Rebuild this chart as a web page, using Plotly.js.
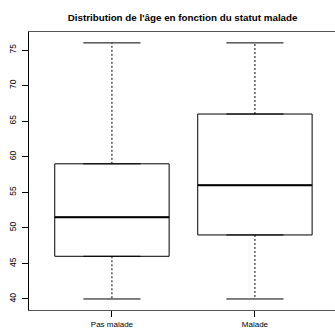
<!DOCTYPE html>
<html><head><meta charset="utf-8">
<script src="https://cdn.plot.ly/plotly-3.0.1.min.js"></script>
<style>html,body{margin:0;padding:0;background:#fff}#c{width:335px;height:329px}</style>
</head><body><div id="c"></div>
<script>
const categories = ["Pas malade", "Malade"];
const positions = [1, 2];
const lowerWhisker = [40, 40];
const q1 = [46, 49];
const median = [51.5, 56];
const q3 = [59, 66];
const upperWhisker = [76, 76];
const yTicks = [40, 45, 50, 55, 60, 65, 70, 75];

const traces = [];
const boxHalf = 0.4, capHalf = 0.2;
positions.forEach((p, i) => {
  traces.push({
    type: 'box', x: [p], q1: [q1[i]], median: [median[i]], q3: [q3[i]],
    lowerfence: [q1[i]], upperfence: [q3[i]], width: 0.8,
    fillcolor: 'rgba(255,255,255,0)', line: {color: '#000', width: 1},
    boxpoints: false, hoverinfo: 'skip', showlegend: false
  });
  traces.push({type: 'scatter', mode: 'lines', x: [p - boxHalf, p + boxHalf], y: [median[i], median[i]],
    line: {color: '#000', width: 2}, showlegend: false, hoverinfo: 'skip'});
  traces.push({type: 'scatter', mode: 'lines', x: [p, p, null, p, p], y: [q3[i], upperWhisker[i], null, q1[i], lowerWhisker[i]],
    line: {color: '#000', width: 1, dash: '2px,2px'}, showlegend: false, hoverinfo: 'skip'});
  traces.push({type: 'scatter', mode: 'lines', x: [p - capHalf, p + capHalf, null, p - capHalf, p + capHalf],
    y: [upperWhisker[i], upperWhisker[i], null, lowerWhisker[i], lowerWhisker[i]],
    line: {color: '#000', width: 1}, showlegend: false, hoverinfo: 'skip'});
});

const layout = {
  width: 335, height: 329,
  margin: {l: 29, r: 0, t: 32, b: 19},
  paper_bgcolor: '#fff', plot_bgcolor: '#fff',
  font: {family: 'Liberation Sans, Arial, sans-serif', color: '#000', size: 8},
  title: {text: "<b>Distribution de l'âge en fonction du statut malade</b>", x: 0.545, xanchor: 'center', y: 0.948, yanchor: 'middle',
    font: {size: 9.8, family: 'Liberation Sans, Arial, sans-serif', color: '#000'}},
  xaxis: {range: [0.42, 2.56], tickvals: positions, ticktext: categories, ticks: 'outside', ticklen: 6,
    tickcolor: '#000', showgrid: false, zeroline: false, showline: true, linecolor: '#555', linewidth: 1, mirror: true,
    tickfont: {size: 8}},
  yaxis: {range: [38.45, 77.53], tickvals: yTicks, ticks: 'outside', ticklen: 6, tickcolor: '#000', tickangle: -90,
    ticklabelstandoff: 3,
    showgrid: false, zeroline: false, showline: true, linecolor: '#000', linewidth: 1, tickfont: {size: 8.5}},
  showlegend: false
};
Plotly.newPlot('c', traces, layout, {displayModeBar: false, staticPlot: true});
</script></body></html>
